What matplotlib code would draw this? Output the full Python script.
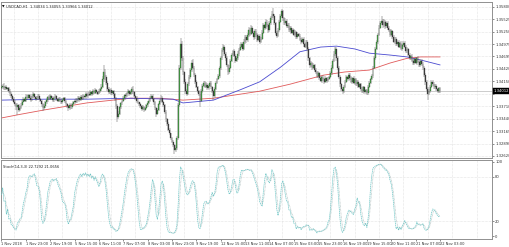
import matplotlib
matplotlib.use('Agg')
import matplotlib.pyplot as plt
import numpy as np
import pandas as pd
from matplotlib.transforms import blended_transform_factory

symbol_title = "USDCAD,H1  1.34034 1.34055 1.33966 1.34012"
stoch_title = "Stoch(14,3,3) 22.7292 21.0656"
bid_label = "1.34012"

first_open = 1.3407
closes = [
    1.3409, 1.3412, 1.3406, 1.3410, 1.3404, 1.3407, 1.3400, 1.3395,
    1.3390, 1.3384, 1.3378, 1.3372, 1.3366, 1.3370, 1.3360, 1.3364, 1.3371,
    1.3378, 1.3383, 1.3380, 1.3388, 1.3385, 1.3391, 1.3386, 1.3382, 1.3389, 1.3393, 1.3387, 1.3383, 1.3386, 1.3390, 1.3384, 1.3380,
    1.3372, 1.3365, 1.3368, 1.3376,
    1.3382, 1.3387, 1.3384, 1.3390, 1.3386, 1.3381, 1.3385, 1.3389, 1.3383, 1.3379, 1.3384, 1.3380,
    1.3376, 1.3381, 1.3385, 1.3379, 1.3373, 1.3368, 1.3364, 1.3370, 1.3366, 1.3372, 1.3376, 1.3380, 1.3377, 1.3383, 1.3386, 1.3382, 1.3388,
    1.3384, 1.3390, 1.3387, 1.3393, 1.3389, 1.3395, 1.3392, 1.3398, 1.3394, 1.3400, 1.3397, 1.3402, 1.3398, 1.3395, 1.3400, 1.3404,
    1.3410, 1.3425, 1.3440, 1.3430, 1.3418,
    1.3405, 1.3398, 1.3402, 1.3396, 1.3400, 1.3393,
    1.3385, 1.3368, 1.3345, 1.3352, 1.3366, 1.3374,
    1.3380, 1.3386, 1.3392, 1.3389, 1.3396, 1.3400, 1.3394, 1.3398,
    1.3405, 1.3398, 1.3390, 1.3386, 1.3380, 1.3376,
    1.3372, 1.3368, 1.3362, 1.3366, 1.3360, 1.3365, 1.3370, 1.3375, 1.3380, 1.3386,
    1.3390, 1.3384, 1.3376, 1.3365, 1.3352, 1.3360, 1.3372, 1.3380, 1.3386, 1.3378, 1.3370,
    1.3355, 1.3340, 1.3330, 1.3318, 1.3310, 1.3300, 1.3292, 1.3285, 1.3275, 1.3280,
    1.3300, 1.3370, 1.3450, 1.3500,
    1.3470, 1.3440, 1.3420, 1.3400, 1.3395,
    1.3415, 1.3430, 1.3445, 1.3460, 1.3450,
    1.3435, 1.3420, 1.3410, 1.3400,
    1.3395, 1.3380, 1.3400, 1.3412,
    1.3418, 1.3410, 1.3414, 1.3406, 1.3412, 1.3418, 1.3408, 1.3400, 1.3390,
    1.3405, 1.3418, 1.3425, 1.3432,
    1.3450, 1.3470, 1.3488, 1.3494,
    1.3480, 1.3470, 1.3455, 1.3440, 1.3450, 1.3465,
    1.3478, 1.3485, 1.3476, 1.3465, 1.3470, 1.3480, 1.3488, 1.3495,
    1.3500, 1.3490, 1.3505, 1.3515, 1.3508, 1.3520, 1.3530, 1.3522, 1.3535, 1.3525, 1.3515, 1.3528, 1.3520, 1.3510, 1.3518, 1.3505,
    1.3512, 1.3525, 1.3540, 1.3535, 1.3548, 1.3540, 1.3530, 1.3545, 1.3555, 1.3565, 1.3560,
    1.3545, 1.3525, 1.3518, 1.3530, 1.3548, 1.3560, 1.3570, 1.3555,
    1.3545, 1.3550, 1.3538, 1.3542, 1.3530, 1.3535, 1.3525, 1.3530, 1.3520, 1.3526, 1.3515, 1.3522, 1.3518, 1.3510,
    1.3505, 1.3512, 1.3500, 1.3495, 1.3505, 1.3490, 1.3470, 1.3455,
    1.3460, 1.3450, 1.3455, 1.3445, 1.3440, 1.3432, 1.3438, 1.3428, 1.3422, 1.3430, 1.3425,
    1.3420, 1.3428, 1.3422, 1.3426, 1.3430, 1.3438, 1.3450,
    1.3465, 1.3480, 1.3490, 1.3470,
    1.3450, 1.3430, 1.3415, 1.3405, 1.3400,
    1.3410, 1.3420, 1.3430, 1.3425, 1.3435, 1.3428, 1.3420, 1.3428, 1.3418, 1.3425, 1.3415, 1.3420, 1.3410, 1.3415,
    1.3405, 1.3400, 1.3408, 1.3398, 1.3402, 1.3396,
    1.3410, 1.3418, 1.3425, 1.3432,
    1.3450, 1.3470, 1.3490, 1.3505, 1.3520, 1.3535, 1.3545,
    1.3550, 1.3540, 1.3548, 1.3538, 1.3545, 1.3535,
    1.3530, 1.3520, 1.3528, 1.3515, 1.3505, 1.3512, 1.3500, 1.3505, 1.3495, 1.3502, 1.3490, 1.3498, 1.3503,
    1.3495, 1.3485, 1.3490, 1.3478, 1.3470, 1.3475, 1.3465, 1.3460,
    1.3468, 1.3460, 1.3470, 1.3462, 1.3455, 1.3465, 1.3458, 1.3450,
    1.3435, 1.3420, 1.3405, 1.3395, 1.3400, 1.3410,
    1.3420, 1.3415, 1.3408, 1.3412, 1.3404, 1.3400, 1.3406, 1.34012,
]
upper_wick_pips = [
    4, 3, 5, 2, 4, 3, 3, 4,
    3, 2, 4, 3, 2, 5, 3, 4, 3,
    3, 4, 2, 5, 3, 4, 2, 3, 4, 5, 3, 2, 4, 3, 3, 2,
    2, 3, 4, 3,
    4, 3, 5, 3, 2, 4, 3, 5, 2, 3, 4, 3,
    3, 4, 3, 2, 3, 2, 3, 4, 3, 2, 4, 3, 5, 3, 4, 3, 4,
    3, 4, 2, 5, 3, 4, 3, 4, 2, 5, 3, 4, 3, 2, 4, 3,
    6, 8, 16, 7, 5,
    4, 5, 3, 4, 3, 2,
    3, 2, 4, 5, 3, 4,
    3, 4, 3, 5, 3, 4, 3, 5,
    4, 6, 3, 2, 3, 3,
    2, 3, 3, 4, 3, 2, 3, 4, 3, 4,
    4, 3, 2, 3, 2, 4, 3, 4, 5, 3, 2,
    3, 4, 3, 4, 3, 2, 3, 4, 3, 5,
    5, 4, 6, 13,
    6, 5, 4, 5, 4,
    4, 5, 4, 6, 8,
    3, 4, 3, 2,
    3, 4, 5, 4,
    4, 3, 5, 3, 4, 3, 4, 3, 2,
    3, 4, 3, 5,
    4, 5, 4, 6,
    4, 3, 4, 3, 5, 4,
    4, 3, 5, 3, 4, 5, 4, 5,
    5, 4, 6, 5, 4, 5, 6, 4, 5, 4, 3, 5, 4, 3, 4, 3,
    4, 5, 6, 4, 5, 4, 3, 5, 6, 5, 13,
    4, 3, 4, 5, 4, 5, 6, 4,
    4, 5, 3, 4, 3, 4, 3, 4, 3, 4, 3, 4, 3, 4,
    4, 3, 4, 3, 5, 3, 4, 3,
    4, 3, 4, 3, 4, 3, 4, 3, 4, 3, 4,
    3, 4, 3, 4, 3, 4, 5,
    4, 5, 5, 4,
    4, 3, 4, 3, 3,
    4, 3, 4, 3, 4, 3, 4, 3, 4, 3, 4, 3, 4, 3,
    3, 4, 3, 4, 3, 3,
    3, 4, 3, 4,
    4, 5, 4, 5, 4, 5, 4,
    10, 4, 5, 4, 5, 4,
    4, 3, 4, 3, 4, 3, 4, 3, 4, 3, 4, 3, 4,
    4, 3, 4, 3, 4, 3, 4, 3,
    3, 4, 3, 4, 3, 4, 3, 4,
    4, 3, 4, 3, 4, 3,
    4, 3, 4, 3, 4, 3, 4, 4,
]
lower_wick_pips = [
    3, 4, 3, 4, 2, 4, 3, 5,
    4, 5, 3, 4, 5, 17, 4, 3, 2,
    3, 2, 4, 3, 4, 2, 3, 5, 2, 3, 4, 3, 2, 4, 3, 4,
    5, 7, 4, 3,
    3, 4, 2, 3, 5, 3, 4, 2, 4, 3, 2, 4,
    4, 3, 2, 4, 5, 4, 6, 3, 4, 3, 2, 4, 3, 2, 3, 4, 2,
    3, 2, 4, 3, 2, 4, 3, 2, 4, 3, 2, 3, 4, 3, 2, 3,
    3, 4, 5, 6, 4,
    4, 3, 3, 5, 4, 4,
    5, 6, 10, 5, 3, 3,
    3, 2, 4, 3, 2, 3, 4, 2,
    3, 4, 3, 4, 5, 3,
    4, 3, 5, 3, 4, 3, 2, 3, 2, 3,
    3, 4, 5, 4, 7, 3, 3, 2, 3, 4, 4,
    4, 5, 4, 3, 4, 5, 3, 4, 9, 4,
    6, 4, 3, 5,
    5, 6, 4, 5, 6,
    3, 4, 3, 4, 3,
    4, 5, 3, 4,
    5, 14, 4, 3,
    3, 4, 3, 4, 3, 4, 3, 4, 9,
    4, 3, 3, 2,
    3, 4, 3, 4,
    4, 5, 4, 6, 3, 3,
    3, 4, 3, 5, 3, 3, 4, 3,
    4, 5, 3, 4, 5, 3, 4, 5, 3, 4, 5, 3, 4, 5, 3, 4,
    3, 4, 3, 5, 3, 4, 5, 3, 4, 3, 4,
    5, 6, 4, 3, 4, 3, 4, 5,
    3, 4, 3, 4, 3, 4, 3, 4, 3, 4, 3, 4, 3, 4,
    4, 3, 5, 4, 3, 5, 6, 5,
    4, 5, 3, 4, 3, 4, 3, 4, 3, 4, 3,
    4, 3, 4, 3, 3, 2, 3,
    3, 3, 4, 6,
    5, 4, 5, 4, 5,
    3, 4, 3, 4, 3, 4, 3, 4, 3, 4, 3, 4, 3, 4,
    4, 3, 4, 3, 4, 4,
    4, 3, 3, 2,
    3, 3, 4, 3, 4, 3, 3,
    4, 5, 4, 5, 4, 5,
    3, 4, 3, 4, 3, 4, 3, 4, 3, 4, 3, 4, 3,
    3, 4, 3, 4, 3, 4, 3, 4,
    4, 3, 4, 3, 4, 3, 4, 4,
    5, 6, 5, 14, 4, 3,
    3, 4, 3, 4, 3, 4, 3, 4,
]

# moving averages, read at a set of bars
ma_blue_bars = [0, 35, 70, 106, 141, 149, 174, 196, 212, 229, 245, 262, 275, 290, 302, 319, 333, 348, 360]
ma_blue = [1.3381, 1.3383, 1.3383, 1.3385, 1.3383, 1.3375, 1.3381, 1.3403, 1.3420, 1.3451,
           1.3484, 1.3494, 1.3496, 1.3490, 1.3481, 1.3477, 1.3473, 1.3464, 1.3456]
ma_red_bars = [0, 16, 35, 70, 106, 130, 149, 174, 212, 237, 264, 282, 302, 319, 333, 344, 360]
ma_red = [1.3343, 1.3351, 1.3360, 1.3375, 1.3385, 1.3385, 1.3381, 1.3385, 1.3400, 1.3415,
          1.3434, 1.3441, 1.3445, 1.3460, 1.3470, 1.3473, 1.3473]

date_labels = ["1 Nov 2018", "1 Nov 23:00", "2 Nov 19:00", "5 Nov 15:00", "6 Nov 11:00",
               "7 Nov 07:00", "8 Nov 03:00", "8 Nov 23:00", "9 Nov 19:00", "12 Nov 15:00",
               "13 Nov 11:00", "14 Nov 07:00", "15 Nov 03:00", "15 Nov 23:00", "16 Nov 19:00",
               "19 Nov 15:00", "20 Nov 11:00", "21 Nov 07:00", "22 Nov 03:00"]
price_tick_labels = ["1.35800", "1.35525", "1.35250", "1.34975", "1.34695", "1.34420",
                     "1.34150", "", "1.33710", "1.33440", "1.33165", "1.32890", "1.32620"]
stoch_tick_labels = ["100", "80", "20", "0"]
stoch_ticks = [100, 80, 20, 0]

# ---------------------------------------------------------------
n = len(closes)
c = np.array(closes)
o = np.concatenate([[first_open], c[:-1]])
hi = np.maximum(o, c) + np.array(upper_wick_pips[:n]) * 0.0001
lo = np.minimum(o, c) - np.array(lower_wick_pips[:n]) * 0.0001
idx = np.arange(n)

W, H = 510, 247
fig = plt.figure(figsize=(W / 100, H / 100), dpi=100)
fig.patch.set_facecolor('white')
ax = fig.add_axes([1 / W, 1 - 158 / H, 491 / W, 156 / H])
ax2 = fig.add_axes([1 / W, 1 - 239 / H, 491 / W, 79 / H])

xl = (-0.4, 402.7)
price_top, price_step = 1.35800, 0.00265
price_ticks = [price_top - k * price_step for k in range(len(price_tick_labels))]

grid_col = '#cccccc'
for a in (ax, ax2):
    a.set_xlim(*xl)
    for gx in range(10, 402, 20):
        a.axvline(gx, color=grid_col, lw=0.4, ls=(0, (1, 1.5)), zorder=0)
    for s in a.spines.values():
        s.set_color('#909090')
        s.set_linewidth(0.7)
    a.set_facecolor('white')

ax.set_ylim(1.32577, 1.35900)
for py in price_ticks:
    ax.axhline(py, color=grid_col, lw=0.4, ls=(0, (1, 1.5)), zorder=0)

# bid line
ax.axhline(c[-1], color='#b8b8b8', lw=0.5, zorder=1)

# MAs
ax.plot(ma_red_bars, ma_red, color='#e05a5a', lw=0.6, zorder=2)
ax.plot(ma_blue_bars, ma_blue, color='#4a4ad0', lw=0.6, zorder=2)

# candles
up = c >= o
ax.vlines(idx, lo, hi, color='#555555', lw=0.35, zorder=3)
body_h = np.maximum(np.abs(c - o), 0.00004)
ax.bar(idx[up], body_h[up], bottom=np.minimum(o, c)[up], width=0.65,
       color='#4aa84a', edgecolor='#2a4a2a', linewidth=0.2, zorder=4)
ax.bar(idx[~up], body_h[~up], bottom=np.minimum(o, c)[~up], width=0.65,
       color='#3a3a3a', edgecolor='#3a3a3a', linewidth=0.2, zorder=4)

ax.yaxis.tick_right()
ax.set_yticks(price_ticks)
ax.set_yticklabels(price_tick_labels)
ax.tick_params(axis='y', labelsize=2.7, length=1.5, width=0.4, pad=0.8,
               colors='#333333')
ax.set_xticks([])

tr = blended_transform_factory(ax.transAxes, ax.transData)
ax.text(1.003, c[-1], bid_label, transform=tr, fontsize=2.7, color='white',
        va='center', ha='left',
        bbox=dict(boxstyle='square,pad=0.25', fc='black', ec='black', lw=0.3),
        clip_on=False, zorder=10)

ax.text(0.003, 0.968, "\u25BC", transform=ax.transAxes, fontsize=2.4,
        va='center', ha='left', color='black')
ax.text(0.011, 0.968, symbol_title, transform=ax.transAxes, fontsize=2.6,
        va='center', ha='left', color='#222222')

# stochastic (14,3,3) from the candles
s_c = pd.Series(c)
ll = pd.Series(lo).rolling(14, min_periods=1).min()
hh = pd.Series(hi).rolling(14, min_periods=1).max()
num = (s_c - ll).rolling(3, min_periods=1).sum()
den = (hh - ll).rolling(3, min_periods=1).sum()
k_line = 100 * num / den
d_line = k_line.rolling(3, min_periods=1).mean()

ax2.set_ylim(-3.9, 102.6)
for lv in (80, 20):
    ax2.axhline(lv, color=grid_col, lw=0.4, ls=(0, (1, 1.5)), zorder=0)
ax2.plot(idx, k_line, color='#6cc4c4', lw=0.5, ls=(0, (2, 0.8)), zorder=3)
ax2.plot(idx, d_line, color='#a8b8b8', lw=0.5, ls=(0, (1, 1)), zorder=2)
ax2.yaxis.tick_right()
ax2.set_yticks(stoch_ticks)
ax2.set_yticklabels(stoch_tick_labels)
ax2.tick_params(axis='y', labelsize=2.7, length=1.5, width=0.4, pad=0.8,
                colors='#333333')
ax2.set_xticks(list(range(0, 20 * len(date_labels), 20)))
ax2.set_xticklabels(date_labels)
ax2.tick_params(axis='x', labelsize=2.6, length=1.2, width=0.4, pad=0.6,
                colors='#333333')
for lbl in ax2.get_xticklabels():
    lbl.set_ha('left')
ax2.text(0.004, 0.91, stoch_title, transform=ax2.transAxes, fontsize=2.6,
         va='center', ha='left', color='#222222')

fig.savefig('out.png', dpi=100, facecolor='white')
